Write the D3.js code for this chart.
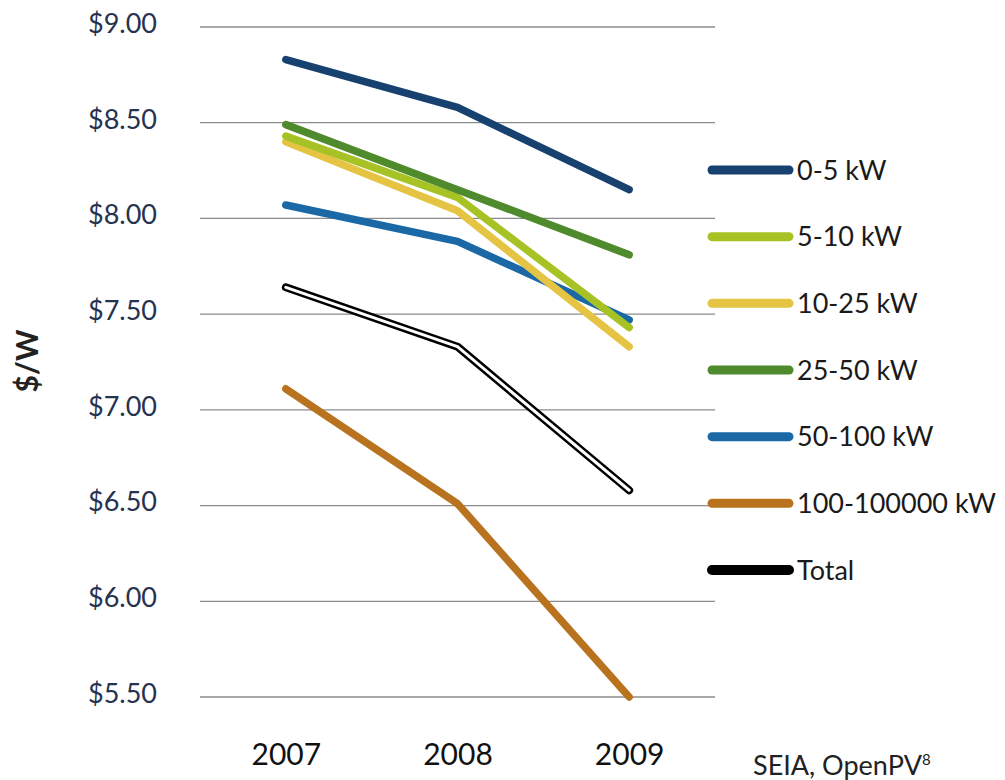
<!DOCTYPE html>
<html><head><meta charset="utf-8">
<script src="https://cdn.jsdelivr.net/npm/d3@7"></script>
<style>body{margin:0;background:#fff;} svg{display:block;}</style>
</head><body>
<svg id="chart" width="1005" height="780"></svg>
<script>
const years = ["2007", "2008", "2009"];
const yTicks = [5.5, 6.0, 6.5, 7.0, 7.5, 8.0, 8.5, 9.0];
const seriesNames = ["0-5 kW", "5-10 kW", "10-25 kW", "25-50 kW", "50-100 kW", "100-100000 kW", "Total"];
const s0_5 = [8.83, 8.58, 8.15];
const s5_10 = [8.43, 8.11, 7.43];
const s10_25 = [8.40, 8.04, 7.33];
const s25_50 = [8.49, 8.15, 7.81];
const s50_100 = [8.07, 7.88, 7.47];
const s100_100000 = [7.11, 6.51, 5.50];
const sTotal = [7.64, 7.33, 6.58];
const colors = ["#17416f", "#a6c225", "#e5c443", "#4f8a2c", "#1a69a6", "#b9731f", "#000000"];

(function () {
const seriesValues = [s0_5, s5_10, s10_25, s25_50, s50_100, s100_100000, sTotal];
const series = seriesNames.map((n, i) => ({name: n, values: seriesValues[i], color: colors[i]}));
const FONT = "Lato, 'Open Sans', sans-serif";

const svg = d3.select("#chart");
const mLeft = 200, mRight = 715, mTop = 27, mBottom = 697;

const x = d3.scalePoint().domain(years).range([mLeft, mRight]).padding(0.5);
const y = d3.scaleLinear().domain([5.5, 9.0]).range([mBottom, mTop]);

// gridlines
svg.append("g").selectAll("line").data(yTicks).join("line")
  .attr("x1", mLeft).attr("x2", mRight)
  .attr("y1", d => y(d)).attr("y2", d => y(d))
  .attr("stroke", "#8c8c8c").attr("stroke-width", 1.3);

// y axis labels
const yAxis = d3.axisLeft(y).tickValues(yTicks).tickSize(0).tickPadding(0)
  .tickFormat(d => "$" + d3.format(".2f")(d));
const ya = svg.append("g").attr("transform", "translate(157,0)").call(yAxis);
ya.select(".domain").remove();
ya.selectAll("text").attr("font-family", FONT)
  .attr("font-size", 27).attr("fill", "#263350").attr("dy", "0.2em");

// x axis labels
const xAxis = d3.axisBottom(x).tickSize(0).tickPadding(0);
const xa = svg.append("g").attr("transform", "translate(0,744)").call(xAxis);
xa.select(".domain").remove();
xa.selectAll("text").attr("font-family", FONT)
  .attr("font-size", 30).attr("fill", "#111").attr("dy", "0.71em");

// y axis title
svg.append("text").attr("transform", "translate(38,361) rotate(-90)")
  .attr("text-anchor", "middle").attr("font-family", FONT)
  .attr("font-weight", "bold").attr("font-size", 30).attr("fill", "#222").text("$/W");

// source
const src = svg.append("text").attr("x", 753).attr("y", 775)
  .attr("font-family", FONT).attr("font-size", 27).attr("fill", "#222");
src.append("tspan").text("SEIA, OpenPV");
src.append("tspan").attr("font-size", 15).attr("dy", -10).text("8");

const line = d3.line().x((d, i) => x(years[i])).y(d => y(d));

const drawOrder = [5, 6, 4, 2, 1, 3, 0];
const lg = svg.append("g");
drawOrder.forEach(i => {
  const s = series[i];
  if (s.name === "Total") {
    lg.append("path").attr("d", line(s.values)).attr("fill", "none")
      .attr("stroke", "#000").attr("stroke-width", 8)
      .attr("stroke-linecap", "round").attr("stroke-linejoin", "round");
    lg.append("path").attr("d", line(s.values)).attr("fill", "none")
      .attr("stroke", "#fff").attr("stroke-width", 3)
      .attr("stroke-linecap", "round").attr("stroke-linejoin", "round");
  } else {
    lg.append("path").attr("d", line(s.values)).attr("fill", "none")
      .attr("stroke", s.color).attr("stroke-width", 7.5)
      .attr("stroke-linecap", "round").attr("stroke-linejoin", "round");
  }
});

// legend
const legY = d3.scalePoint().domain(seriesNames).range([170, 570]);
const leg = svg.append("g");
series.forEach(s => {
  const yy = legY(s.name);
  leg.append("line").attr("x1", 712).attr("x2", 789).attr("y1", yy).attr("y2", yy)
    .attr("stroke", s.color).attr("stroke-width", s.name === "Total" ? 10 : 9)
    .attr("stroke-linecap", "round");
  leg.append("text").attr("x", 797).attr("y", yy).attr("dy", "0.36em")
    .attr("font-family", FONT).attr("font-size", 27)
    .attr("fill", "#1a1a1a").text(s.name);
});
})();
</script>
</body></html>
